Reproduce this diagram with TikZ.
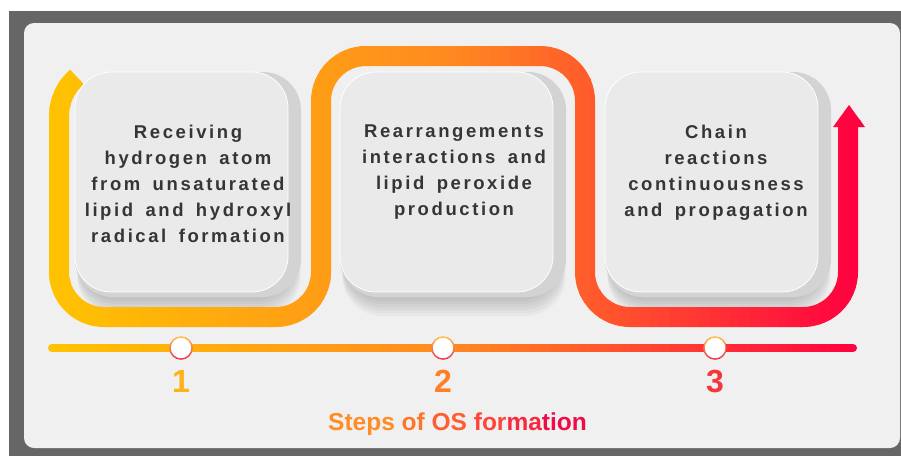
\documentclass[tikz,border=0pt]{standalone}
\usepackage{fontspec}
\setmainfont{Liberation Sans}
\newfontfamily\boxfont[LetterSpace=14,WordSpace=1.6]{Liberation Sans Bold}
\definecolor{bgdark}{HTML}{666666}
\definecolor{panelgray}{HTML}{F0F0F0}
\definecolor{facegray}{HTML}{EAEAEA}
\definecolor{rimgray}{HTML}{D3D3D3}
\definecolor{ink}{HTML}{353535}
\definecolor{yel}{HTML}{FFC400}
\definecolor{orng}{HTML}{FF8A20}
\definecolor{rd}{HTML}{FF0040}
\definecolor{ringtop}{HTML}{FFC04A}
\definecolor{ringbot}{HTML}{E8344E}
\definecolor{num1c}{HTML}{FFB214}
\definecolor{num2c}{HTML}{FF7E26}
\definecolor{num3c}{HTML}{F5363C}
\definecolor{tt1}{HTML}{FF8C24}
\definecolor{tt2}{HTML}{FF7629}
\definecolor{tt3}{HTML}{FF5E30}
\definecolor{tt4}{HTML}{FF4438}
\definecolor{tt5}{HTML}{F8283F}
\definecolor{tt6}{HTML}{EE0C48}
\begin{document}
\begin{tikzpicture}[x=1pt, y=-1pt,
  boxface/.style={draw=white, line width=0.8pt, fill=facegray, rounded corners=36pt,
    minimum width=213pt, minimum height=220pt, inner sep=0pt},
  boxrim/.style={fill=rimgray, rounded corners=38pt, minimum width=226pt,
    minimum height=225pt, inner sep=0pt},
  boxtext/.style={anchor=north, align=center, inner sep=0pt, text=ink,
    font=\boxfont\fontsize{18.5}{26}\selectfont},
  bandline/.style={line width=20pt},
  timeline/.style={line width=8pt, line cap=round},
  stepdot/.style={circle, fill=white, minimum size=22pt, inner sep=0pt},
  num/.style={font=\bfseries\fontsize{32}{32}\selectfont, inner sep=0pt}]
\useasboundingbox (0,0) rectangle (901,456);
\fill[white] (0,0) rectangle (901,456);
\fill[bgdark] (9,11) rectangle (901,456);
\fill[panelgray, rounded corners=10pt] (24,23) rectangle (900,448);

% soft shadows under the boxes
\foreach \cx in {181.5,446.5,711.5}
  \foreach \k in {1,...,6}
    \fill[black, opacity=0.03, rounded corners=40pt] ({\cx-104},{74+\k}) rectangle ({\cx+113+\k},{298+3*\k});

% band and time line
\coordinate (b0) at (77,77);
\coordinate (b1) at (59,317);
\coordinate (b2) at (321,317);
\coordinate (b3) at (321,56);
\coordinate (b4) at (585,56);
\coordinate (b5) at (585,317);
\coordinate (b6) at (848,317);
\coordinate (b7) at (848,126);
\coordinate (ahL) at (833,127);
\coordinate (ahT) at (849,105);
\coordinate (ahR) at (865,127);
\coordinate (tlL) at (52,348);
\coordinate (tlR) at (853,348);
\foreach \i in {0,...,82}{
  \pgfmathsetmacro\xa{40+10*\i}
  \pgfmathsetmacro\xm{\xa+5}
  \ifdim\xm pt<450pt
    \pgfmathsetmacro\p{min(100,(\xm-40)/4.1)}
    \colorlet{stripc}{orng!\p!yel}
  \else
    \pgfmathsetmacro\p{min(100,(\xm-450)/4.1)}
    \colorlet{stripc}{rd!\p!orng}
  \fi
  \begin{scope}
    \clip ({\xa-0.5},40) rectangle ({\xa+10.5},380);
    \draw[bandline, stripc] (b0) arc[start angle=230, end angle=180, radius=50]
      [rounded corners=45pt] -- (b1) -- (b2) -- (b3) -- (b4) -- (b5) -- (b6) -- (b7);
    \fill[stripc] (ahL) -- (ahT) -- (ahR) -- cycle;
    \draw[timeline, stripc] (tlL) -- (tlR);
  \end{scope}
}

% boxes
\node[boxrim] (rim1) at (188,184.5) {};
\node[boxrim] (rim2) at (453,184.5) {};
\node[boxrim] (rim3) at (718,184.5) {};
\node[boxface] (box1) at (181.5,182) {};
\node[boxface] (box2) at (446.5,182) {};
\node[boxface] (box3) at (711.5,182) {};
\node[boxtext] (txt1) at (188,125) {Receiving\\hydrogen atom\\from unsaturated\\lipid and hydroxyl\\radical formation};
\node[boxtext] (txt2) at (454,125) {Rearrangements\\interactions and\\lipid peroxide\\production};
\node[boxtext] (txt3) at (716,125) {Chain\\reactions\\continuousness\\and propagation};

% steps
\node[stepdot] (dot1) at (181,348) {};
\node[stepdot] (dot2) at (443,348) {};
\node[stepdot] (dot3) at (715,348) {};
\foreach \d in {dot1,dot2,dot3}
  \shade[top color=ringtop, bottom color=ringbot, even odd rule]
    (\d) circle[radius=11.8] (\d) circle[radius=10.3];
\node[num, text=num1c] (num1) at (181,381.5) {1};
\node[num, text=num2c] (num2) at (443,381.5) {2};
\node[num, text=num3c] (num3) at (715,381.5) {3};
\node[anchor=base, inner sep=0pt, font=\bfseries\fontsize{24.5}{24.5}\selectfont] (title) at (457.5,430)
  {\textcolor{tt1}{Steps} \textcolor{tt2}{of} \textcolor{tt3}{OS} \textcolor{tt4}{for}\textcolor{tt5}{ma}\textcolor{tt6}{tion}};
\end{tikzpicture}
\end{document}
